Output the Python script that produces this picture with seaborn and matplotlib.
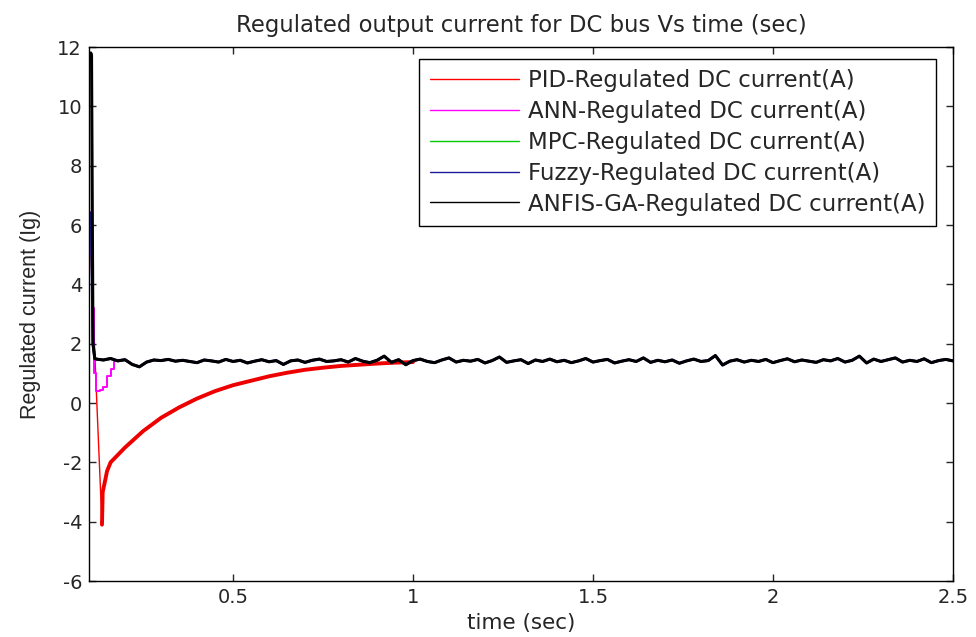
import numpy as np
import pandas as pd
import matplotlib
matplotlib.use("Agg")
import matplotlib.pyplot as plt
from matplotlib.lines import Line2D
import seaborn as sns

# ---------------- data ----------------
labels = ["PID-Regulated DC current(A)", "ANN-Regulated DC current(A)",
          "MPC-Regulated DC current(A)", "Fuzzy-Regulated DC current(A)",
          "ANFIS-GA-Regulated DC current(A)"]
colors = ["#ff0000", "#ff00ff", "#00cc00", "#1a1a9a", "#000000"]

x_ticks = [0.5, 1.0, 1.5, 2.0, 2.5]
x_tick_labels = ["0.5", "1", "1.5", "2", "2.5"]
y_ticks = [-6, -4, -2, 0, 2, 4, 6, 8, 10, 12]

# common steady-state ripple (t = 0.12 ... 2.50, 120 samples)
steady_time = np.linspace(0.12, 2.50, 120)
steady_current = [
    1.48, 1.45, 1.50, 1.42, 1.46, 1.30, 1.22, 1.38, 1.45, 1.43,
    1.47, 1.41, 1.44, 1.40, 1.36, 1.45, 1.42, 1.38, 1.47, 1.40,
    1.44, 1.35, 1.41, 1.46, 1.39, 1.43, 1.30, 1.42, 1.45, 1.37,
    1.44, 1.48, 1.40, 1.42, 1.46, 1.38, 1.50, 1.41, 1.36, 1.44,
    1.58, 1.37, 1.46, 1.29, 1.43, 1.48, 1.40, 1.36, 1.45, 1.52,
    1.38, 1.44, 1.41, 1.47, 1.35, 1.43, 1.55, 1.37, 1.42, 1.46,
    1.33, 1.45, 1.40, 1.48, 1.39, 1.44, 1.36, 1.42, 1.50, 1.38,
    1.43, 1.47, 1.35, 1.41, 1.46, 1.40, 1.52, 1.37, 1.44, 1.39,
    1.45, 1.34, 1.42, 1.48, 1.40, 1.43, 1.60, 1.28, 1.41, 1.46,
    1.38, 1.44, 1.40, 1.47, 1.36, 1.43, 1.49, 1.39, 1.45, 1.41,
    1.37, 1.46, 1.42, 1.50, 1.38, 1.44, 1.58, 1.35, 1.48, 1.40,
    1.46, 1.52, 1.38, 1.44, 1.40, 1.49, 1.36, 1.43, 1.47, 1.42,
]

# PID transient: fast drop then slow recovery
pid_drop_time = [0.104, 0.120, 0.136]
pid_drop_current = [5.3, 0.5, -4.1]
pid_recovery_time = [0.136, 0.138, 0.145, 0.15, 0.16, 0.18, 0.20, 0.25, 0.30, 0.35,
                     0.40, 0.45, 0.50, 0.55, 0.60, 0.65, 0.70, 0.75, 0.80, 0.85,
                     0.90, 0.95, 1.00]
pid_recovery_current = [-4.1, -3.0, -2.6, -2.3, -2.0, -1.75, -1.5, -0.95, -0.5, -0.15,
                        0.15, 0.40, 0.60, 0.75, 0.90, 1.02, 1.12, 1.19, 1.25, 1.29,
                        1.33, 1.36, 1.38]

# ANN transient
ann_time = [0.102, 0.104, 0.108, 0.114, 0.120, 0.130, 0.140, 0.150, 0.160, 0.170, 0.180]
ann_current = [5.0, 6.45, 3.2, 1.0, 0.4, 0.45, 0.55, 0.9, 1.15, 1.4, 1.45]

# MPC / Fuzzy / ANFIS-GA transient
mpc_time = [0.103, 0.106, 0.111, 0.116]
mpc_current = [6.0, 6.3, 1.9, 1.5]
fuzzy_time = [0.103, 0.106, 0.111, 0.116]
fuzzy_current = [6.2, 6.4, 2.0, 1.5]
anfis_time = [0.103, 0.105, 0.107, 0.111, 0.116]
anfis_current = [11.6, 11.8, 11.7, 2.0, 1.5]

# ---------------- figure ----------------
sns.set_style("ticks")
plt.rcParams["font.family"] = ["DejaVu Sans"]
plt.rcParams["axes.unicode_minus"] = False
plt.rcParams["xtick.direction"] = "in"
plt.rcParams["ytick.direction"] = "in"

fig = plt.figure(figsize=(9.76, 6.37), dpi=100)
ax = fig.add_axes([0.0912, 0.0879, 0.8852, 0.8383])


def draw(t, v, color, lw, steps=False):
    df = pd.DataFrame({"t": t, "v": v})
    kw = {"drawstyle": "steps-post"} if steps else {}
    sns.lineplot(data=df, x="t", y="v", ax=ax, color=color, linewidth=lw,
                 estimator=None, sort=False, legend=False, **kw)


def with_steady(t0, v0):
    mask = steady_time > t0[-1] + 1e-9
    return (list(t0) + list(steady_time[mask]),
            list(v0) + list(np.array(steady_current)[mask]))


# PID
draw(pid_drop_time, pid_drop_current, colors[0], 1.0)
draw(pid_recovery_time, pid_recovery_current, "#ee0000", 2.8)
pt, pv = with_steady(pid_recovery_time[-1:], pid_recovery_current[-1:])
draw(pt, pv, colors[0], 1.0)
# ANN
draw(ann_time, ann_current, colors[1], 1.4, steps=True)
t, v = with_steady(ann_time[-1:], ann_current[-1:])
draw(t, v, colors[1], 1.4)
# MPC
t, v = with_steady(mpc_time, mpc_current)
draw(t, v, colors[2], 1.4)
# Fuzzy
t, v = with_steady(fuzzy_time, fuzzy_current)
draw(t, v, colors[3], 2.0)
# ANFIS-GA
t, v = with_steady(anfis_time, anfis_current)
draw(t, v, colors[4], 2.2)

ax.set_xlim(0.1, 2.5)
ax.set_ylim(-6, 12)
ax.set_xticks(x_ticks)
ax.set_xticklabels(x_tick_labels)
ax.set_yticks(y_ticks)
ax.tick_params(axis="both", which="both", top=True, right=True, length=5,
               width=1, labelsize=14, pad=5)
for s in ax.spines.values():
    s.set_linewidth(1.0)
    s.set_color("black")

ax.set_title("Regulated output current for DC bus Vs time (sec)", fontsize=16.4,
             pad=11)
ax.set_xlabel("time (sec)", fontsize=15.5, labelpad=4)
ax.set_ylabel("Regulated current (Ig)", fontsize=15.5, labelpad=12,
              family="Liberation Sans")

handles = [Line2D([0], [0], color=c, lw=1.0) for c in colors]
leg = ax.legend(handles, labels, loc="upper right", bbox_to_anchor=(0.9803, 0.9775),
                fontsize=16.5, frameon=True, fancybox=False, edgecolor="black",
                framealpha=1, handlelength=3.9, handletextpad=0.4,
                labelspacing=0.34, borderpad=0.45, borderaxespad=0)
leg.get_frame().set_linewidth(1.0)

fig.savefig("out.png", dpi=100, facecolor="white")
